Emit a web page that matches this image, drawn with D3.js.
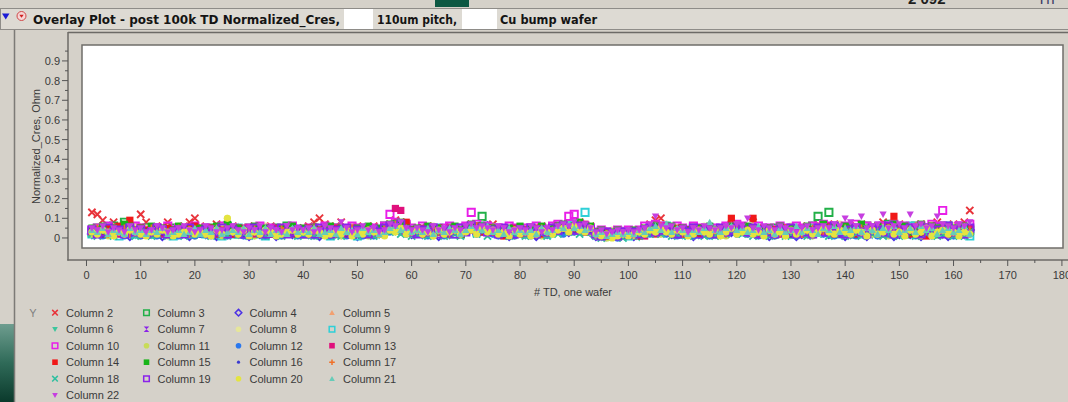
<!DOCTYPE html>
<html><head><meta charset="utf-8">
<script src="https://cdn.jsdelivr.net/npm/d3@7"></script>
<style>html,body{margin:0;padding:0;background:#d5d1c9;overflow:hidden}</style>
</head><body><svg id="c" width="1068" height="402"></svg>
<script>
// ---------------- DATA ----------------
const titleParts = ["Overlay Plot - post 100k TD Normalized_Cres,", "110um pitch,", "Cu bump wafer"];
const xTitle = "# TD, one wafer";
const yTitle = "Normalized_Cres, Ohm";
const xTicks = [0,10,20,30,40,50,60,70,80,90,100,110,120,130,140,150,160,170,180];
const yTicks = [0,0.1,0.2,0.3,0.4,0.5,0.6,0.7,0.8,0.9];
const seriesNames = ["Column 2","Column 3","Column 4","Column 5","Column 6","Column 7","Column 8","Column 9","Column 10","Column 11","Column 12","Column 13","Column 14","Column 15","Column 16","Column 17","Column 18","Column 19","Column 20","Column 21","Column 22"];

const col2 = [.13,.12,.09,.06,.08,.05,.07,.04,.06,.12,.08,.05,.04,.06,.08,.03,.05,.06,.08,.10,
.06,.05,.04,.07,.03,.05,.06,.04,.05,.03,.06,.04,.05,.06,.03,.05,.04,.06,.05,.04,
.06,.08,.10,.07,.05,.06,.08,.05,.04,.06,.05,.04,.06,.05,.06,.07,.09,.08,.06,.05,
.05,.04,.06,.05,.03,.05,.06,.04,.05,.06,.07,.05,.06,.04,.07,.05,.04,.05,.03,.05,
.04,.05,.03,.06,.04,.05,.06,.07,.05,.06,.08,.05,.06,.03,.04,.02,.03,.04,.03,.02,
.03,.04,.05,.07,.09,.10,.06,.05,.04,.05,.03,.04,.05,.04,.03,.05,.04,.06,.07,.05,
.06,.05,.08,.04,.05,.03,.04,.05,.03,.04,.05,.04,.06,.05,.07,.06,.05,.07,.06,.05,
.06,.05,.07,.04,.06,.05,.08,.06,.05,.07,.04,.06,.05,.07,.06,.05,.08,.06,.05,.07,
.06,.08,.14];
const col3 = [.03,.05,.04,.02,.06,.04,.08,.05,.03,.04,.05,.02,.03,.04,.02,.05,.03,.04,.02,.03,
.04,.03,.05,.02,.04,.06,.03,.02,.04,.05,.03,.04,.02,.03,.05,.04,.06,.03,.04,.02,
.03,.05,.02,.04,.03,.05,.04,.02,.03,.04,.02,.05,.03,.04,.06,.05,.07,.04,.06,.03,
.04,.03,.05,.02,.04,.03,.05,.04,.02,.05,.06,.04,.11,.05,.04,.03,.04,.02,.03,.04,
.03,.05,.02,.04,.03,.04,.06,.05,.07,.04,.06,.05,.04,.02,.03,.01,.02,.03,.02,.03,
.02,.03,.04,.05,.06,.04,.05,.03,.04,.02,.03,.05,.04,.03,.02,.04,.03,.05,.04,.06,
.05,.04,.03,.04,.02,.03,.05,.04,.03,.02,.04,.03,.05,.06,.11,.04,.13,.05,.03,.04,
.05,.02,.04,.06,.03,.05,.04,.07,.03,.05,.02,.04,.06,.03,.05,.04,.02,.06,.04,.03,
.05,.03,.04];
const col4 = [.02,.04,.03,.05,.02,.03,.04,.01,.03,.02,.04,.03,.02,.01,.03,.02,.04,.03,.01,.02,
.03,.02,.04,.01,.03,.02,.03,.04,.02,.01,.03,.02,.04,.03,.01,.02,.03,.02,.04,.03,
.02,.03,.01,.04,.02,.03,.02,.04,.03,.01,.02,.03,.02,.04,.03,.05,.04,.06,.03,.02,
.03,.02,.04,.03,.01,.03,.02,.04,.03,.04,.05,.03,.04,.06,.03,.02,.03,.01,.02,.03,
.02,.03,.01,.03,.02,.03,.04,.05,.03,.06,.04,.05,.03,.01,.02,.01,.02,.01,.03,.02,
.01,.02,.03,.05,.04,.03,.05,.02,.03,.02,.03,.01,.02,.03,.02,.03,.02,.04,.03,.05,
.04,.03,.05,.02,.03,.01,.02,.03,.02,.03,.01,.02,.03,.02,.04,.03,.02,.04,.03,.01,
.02,.04,.03,.01,.03,.02,.04,.03,.01,.02,.04,.02,.03,.01,.03,.02,.04,.03,.01,.02,
.03,.02,.04];
const col5 = [.04,.03,.05,.04,.06,.03,.05,.04,.03,.06,.04,.05,.03,.04,.02,.04,.03,.05,.04,.03,
.05,.04,.02,.03,.05,.04,.03,.06,.04,.03,.04,.05,.02,.04,.03,.04,.05,.03,.04,.05,
.04,.03,.05,.04,.02,.04,.03,.05,.04,.03,.05,.04,.03,.04,.05,.06,.05,.07,.04,.05,
.04,.05,.03,.04,.05,.03,.04,.05,.04,.05,.06,.05,.04,.06,.05,.03,.04,.05,.03,.04,
.05,.04,.03,.05,.04,.06,.05,.07,.06,.05,.07,.05,.06,.03,.02,.04,.03,.02,.04,.03,
.02,.04,.05,.06,.04,.07,.05,.04,.05,.03,.04,.05,.03,.04,.05,.03,.04,.05,.06,.04,
.05,.06,.04,.03,.04,.05,.03,.04,.05,.03,.04,.05,.04,.05,.06,.04,.05,.06,.04,.05,
.04,.06,.05,.03,.05,.04,.06,.05,.04,.06,.05,.04,.05,.06,.04,.05,.07,.04,.05,.04,
.05,.04,.03];
const col6 = [.01,.03,.02,.04,.01,.02,.03,.02,.01,.03,.02,.01,.02,.03,.01,.02,.01,.03,.02,.01,
.02,.01,.03,.02,.01,.02,.03,.01,.02,.03,.01,.02,.01,.03,.02,.01,.02,.03,.01,.02,
.01,.02,.03,.01,.02,.01,.03,.02,.01,.02,.03,.01,.02,.01,.02,.04,.03,.05,.02,.03,
.02,.01,.03,.02,.04,.02,.01,.03,.02,.03,.04,.02,.03,.05,.02,.03,.01,.02,.03,.02,
.01,.02,.03,.01,.02,.03,.04,.03,.05,.04,.03,.04,.02,.01,.00,.02,.01,.00,.01,.02,
.01,.00,.02,.03,.04,.03,.02,.04,.02,.01,.02,.03,.01,.02,.03,.01,.02,.03,.04,.02,
.03,.02,.04,.01,.02,.03,.01,.02,.03,.01,.02,.03,.01,.02,.03,.02,.04,.01,.03,.02,
.01,.03,.02,.04,.01,.02,.03,.01,.04,.02,.01,.03,.02,.01,.03,.02,.04,.01,.02,.03,
.02,.01,.02];
const col7 = [.03,.04,.02,.03,.05,.03,.02,.04,.03,.05,.02,.04,.03,.02,.04,.03,.05,.02,.03,.04,
.02,.03,.04,.03,.05,.02,.04,.03,.02,.04,.03,.05,.03,.02,.04,.03,.02,.04,.05,.03,
.04,.02,.03,.05,.04,.02,.03,.04,.02,.03,.05,.03,.04,.02,.03,.05,.06,.04,.05,.03,
.03,.04,.02,.05,.03,.04,.02,.03,.04,.05,.04,.06,.05,.03,.05,.04,.02,.03,.04,.03,
.04,.02,.04,.03,.05,.03,.05,.06,.04,.07,.05,.06,.04,.02,.03,.02,.01,.03,.02,.03,
.03,.02,.04,.03,.06,.05,.04,.05,.03,.04,.02,.04,.03,.05,.03,.04,.02,.05,.04,.05,
.06,.04,.05,.03,.04,.02,.03,.05,.04,.03,.02,.04,.03,.05,.04,.06,.03,.05,.04,.03,
.05,.03,.06,.04,.03,.05,.04,.02,.05,.03,.06,.04,.03,.05,.02,.04,.06,.03,.04,.05,
.03,.05,.04];
const col8 = [.05,.03,.04,.06,.03,.05,.02,.04,.06,.03,.05,.04,.02,.05,.03,.04,.06,.03,.02,.04,
.03,.05,.04,.02,.06,.10,.03,.04,.05,.02,.04,.03,.06,.04,.02,.03,.05,.04,.03,.05,
.03,.04,.05,.02,.04,.03,.05,.04,.06,.03,.04,.02,.05,.03,.04,.06,.05,.04,.07,.04,
.05,.03,.04,.06,.02,.04,.05,.03,.04,.05,.06,.04,.07,.05,.03,.04,.05,.03,.04,.05,
.03,.04,.05,.02,.05,.04,.06,.05,.06,.08,.06,.04,.05,.03,.02,.03,.04,.02,.03,.02,
.04,.03,.05,.04,.06,.05,.07,.04,.03,.05,.04,.03,.05,.06,.04,.03,.05,.04,.05,.06,
.04,.05,.06,.03,.05,.04,.03,.05,.04,.06,.03,.05,.04,.06,.05,.04,.06,.05,.07,.04,
.05,.04,.06,.05,.03,.06,.04,.05,.07,.04,.05,.03,.06,.04,.05,.07,.04,.05,.03,.06,
.04,.05,.03];
const col9 = [.02,.03,.04,.02,.03,.01,.04,.03,.02,.04,.03,.02,.04,.03,.02,.01,.03,.04,.02,.03,
.04,.02,.03,.04,.01,.03,.02,.05,.03,.04,.02,.03,.01,.04,.03,.02,.04,.03,.02,.04,
.03,.02,.04,.03,.01,.03,.04,.02,.03,.01,.04,.03,.02,.03,.04,.06,.05,.04,.03,.04,
.03,.04,.02,.03,.05,.03,.04,.02,.03,.04,.05,.03,.06,.04,.05,.03,.04,.02,.03,.04,
.02,.03,.04,.03,.02,.04,.05,.04,.06,.07,.05,.13,.04,.02,.03,.02,.01,.02,.03,.01,
.02,.03,.04,.03,.05,.04,.06,.03,.04,.02,.03,.04,.02,.03,.05,.02,.04,.03,.05,.04,
.03,.05,.04,.02,.03,.04,.02,.03,.04,.02,.03,.04,.03,.05,.04,.03,.05,.04,.02,.04,
.03,.05,.02,.04,.03,.05,.04,.02,.05,.03,.04,.06,.02,.04,.03,.05,.04,.03,.06,.02,
.04,.03,.01];
const col10 = [.04,.05,.03,.06,.04,.05,.03,.04,.06,.05,.03,.04,.05,.03,.06,.04,.05,.03,.04,.06,
.04,.05,.03,.04,.06,.03,.05,.04,.03,.05,.04,.06,.03,.05,.04,.03,.05,.06,.04,.03,
.05,.04,.03,.06,.04,.05,.03,.04,.06,.05,.04,.03,.05,.04,.06,.12,.08,.06,.07,.05,
.04,.06,.05,.03,.04,.05,.06,.04,.05,.06,.13,.07,.05,.06,.04,.05,.04,.06,.05,.03,
.05,.04,.06,.05,.04,.06,.07,.06,.11,.12,.07,.06,.05,.03,.04,.03,.02,.04,.03,.04,
.03,.04,.06,.05,.07,.06,.05,.04,.06,.05,.04,.06,.05,.04,.03,.05,.04,.06,.05,.07,
.06,.05,.04,.06,.03,.05,.04,.06,.05,.04,.06,.05,.04,.06,.05,.07,.06,.05,.04,.06,
.05,.07,.04,.06,.05,.04,.06,.05,.07,.04,.06,.05,.04,.06,.05,.07,.06,.14,.05,.04,
.06,.05,.07];
const col11 = [.02,.04,.03,.01,.03,.02,.04,.03,.02,.01,.03,.04,.02,.03,.01,.02,.04,.03,.02,.01,
.03,.02,.04,.03,.01,.02,.03,.04,.02,.03,.01,.02,.04,.03,.02,.01,.03,.02,.04,.03,
.02,.01,.03,.02,.04,.03,.01,.02,.03,.04,.02,.01,.03,.02,.04,.04,.06,.03,.05,.02,
.03,.02,.04,.01,.03,.02,.04,.03,.02,.04,.05,.03,.04,.02,.05,.03,.02,.04,.01,.03,
.02,.04,.03,.01,.03,.02,.05,.04,.06,.03,.05,.04,.03,.01,.02,.00,.02,.01,.03,.02,
.01,.02,.04,.03,.05,.02,.04,.03,.02,.04,.03,.01,.02,.03,.04,.02,.03,.01,.04,.03,
.04,.02,.03,.04,.02,.03,.01,.04,.02,.03,.04,.02,.03,.01,.04,.03,.05,.02,.04,.03,
.02,.04,.03,.05,.02,.03,.04,.01,.03,.05,.02,.04,.03,.01,.04,.02,.05,.03,.02,.04,
.03,.02,.04];
const col12 = [.03,.02,.01,.03,.02,.04,.01,.02,.03,.01,.02,.03,.01,.02,.03,.02,.01,.03,.02,.01,
.02,.03,.01,.02,.03,.01,.02,.04,.01,.02,.03,.02,.01,.03,.02,.01,.02,.03,.01,.02,
.03,.01,.02,.03,.01,.02,.03,.01,.02,.03,.01,.02,.01,.03,.02,.03,.04,.03,.02,.03,
.02,.03,.01,.02,.03,.01,.02,.03,.02,.03,.04,.02,.03,.04,.02,.01,.03,.02,.01,.02,
.03,.01,.02,.03,.02,.03,.04,.02,.04,.03,.05,.03,.04,.02,.01,.02,.01,.00,.02,.01,
.02,.01,.03,.02,.04,.03,.02,.04,.01,.03,.02,.01,.03,.02,.01,.03,.02,.03,.04,.02,
.03,.02,.04,.01,.02,.03,.01,.02,.03,.02,.01,.03,.02,.04,.03,.02,.03,.01,.02,.04,
.02,.01,.03,.02,.04,.01,.03,.02,.01,.03,.02,.04,.01,.03,.02,.01,.04,.02,.03,.01,
.02,.03,.02];
const col13 = [.04,.03,.05,.03,.04,.02,.05,.03,.04,.02,.03,.05,.04,.02,.03,.04,.02,.03,.05,.04,
.03,.02,.04,.05,.03,.04,.02,.03,.05,.04,.02,.03,.04,.02,.05,.03,.04,.02,.03,.04,
.02,.04,.03,.05,.02,.03,.04,.02,.05,.03,.04,.03,.02,.04,.03,.06,.15,.14,.06,.04,
.03,.05,.04,.02,.03,.04,.05,.03,.02,.04,.05,.06,.04,.05,.03,.04,.02,.03,.05,.04,
.03,.02,.04,.05,.03,.04,.06,.05,.04,.06,.05,.07,.04,.02,.01,.03,.02,.01,.02,.03,
.02,.03,.01,.04,.05,.03,.06,.04,.03,.02,.04,.03,.05,.02,.04,.03,.02,.05,.06,.04,
.05,.03,.04,.02,.05,.03,.04,.02,.03,.05,.04,.02,.03,.04,.05,.03,.06,.04,.02,.05,
.03,.04,.06,.02,.05,.03,.04,.06,.02,.05,.04,.03,.05,.02,.04,.06,.03,.05,.04,.02,
.04,.03,.05];
const col14 = [.03,.04,.02,.05,.03,.06,.04,.09,.03,.05,.04,.02,.04,.03,.05,.02,.04,.03,.05,.06,
.04,.03,.05,.02,.04,.03,.02,.05,.04,.03,.05,.02,.03,.04,.02,.05,.03,.04,.02,.03,
.05,.03,.04,.02,.03,.05,.04,.03,.02,.04,.03,.05,.02,.04,.03,.05,.04,.06,.08,.04,
.03,.02,.04,.03,.05,.02,.03,.04,.02,.05,.04,.06,.03,.04,.05,.02,.01,.03,.04,.02,
.04,.03,.05,.02,.04,.03,.04,.06,.05,.04,.06,.03,.05,.02,.03,.01,.02,.03,.01,.02,
.03,.01,.04,.03,.02,.05,.04,.03,.05,.02,.04,.03,.02,.04,.03,.02,.04,.05,.10,.04,
.03,.05,.10,.04,.03,.02,.04,.03,.05,.02,.04,.03,.02,.04,.03,.05,.04,.02,.05,.03,
.04,.02,.05,.03,.04,.06,.02,.04,.11,.03,.05,.02,.04,.03,.01,.05,.03,.04,.02,.03,
.02,.04,.03];
const col15 = [.05,.04,.06,.03,.05,.04,.07,.06,.04,.05,.03,.06,.04,.05,.03,.04,.06,.05,.03,.04,
.05,.03,.04,.06,.03,.07,.04,.05,.03,.04,.06,.03,.05,.04,.03,.05,.04,.06,.03,.05,
.04,.05,.03,.04,.06,.03,.05,.04,.03,.05,.04,.06,.03,.05,.04,.07,.06,.08,.05,.04,
.05,.04,.06,.03,.05,.04,.03,.06,.04,.05,.07,.05,.06,.04,.05,.04,.03,.05,.04,.06,
.03,.05,.04,.06,.03,.05,.06,.07,.05,.06,.08,.05,.06,.03,.04,.02,.03,.04,.02,.03,
.04,.02,.05,.04,.06,.05,.04,.06,.03,.05,.04,.03,.05,.04,.06,.03,.05,.04,.06,.05,
.04,.06,.05,.03,.04,.05,.03,.06,.04,.05,.03,.04,.06,.04,.05,.07,.05,.06,.04,.06,
.05,.04,.07,.05,.03,.06,.04,.05,.07,.04,.06,.03,.05,.07,.04,.06,.05,.03,.06,.05,
.04,.06,.03];
const col16 = [.02,.03,.01,.02,.04,.02,.03,.01,.02,.03,.02,.04,.01,.02,.03,.01,.02,.04,.02,.03,
.01,.02,.03,.02,.04,.01,.02,.03,.01,.02,.04,.02,.03,.01,.02,.03,.02,.01,.03,.02,
.02,.03,.01,.02,.03,.02,.04,.01,.02,.03,.01,.02,.03,.01,.02,.04,.05,.03,.04,.02,
.03,.01,.02,.04,.02,.03,.01,.02,.03,.02,.04,.03,.05,.03,.02,.03,.01,.02,.03,.01,
.02,.03,.01,.02,.03,.02,.04,.03,.05,.03,.04,.05,.03,.01,.02,.01,.00,.02,.01,.02,
.01,.02,.03,.02,.04,.03,.05,.02,.03,.01,.02,.03,.02,.01,.03,.02,.01,.03,.02,.04,
.03,.02,.01,.03,.02,.01,.03,.02,.04,.01,.03,.02,.01,.03,.02,.04,.02,.03,.01,.02,
.03,.02,.04,.01,.03,.02,.01,.03,.02,.04,.01,.03,.02,.01,.03,.02,.04,.03,.01,.02,
.03,.02,.01];
const col17 = [.03,.05,.04,.02,.04,.03,.05,.02,.04,.03,.02,.05,.03,.04,.02,.03,.05,.04,.02,.03,
.04,.02,.03,.05,.02,.04,.03,.02,.04,.03,.05,.02,.04,.03,.02,.05,.03,.04,.02,.03,
.03,.05,.02,.04,.03,.02,.04,.03,.05,.02,.03,.04,.02,.03,.05,.05,.07,.04,.05,.03,
.04,.02,.03,.05,.03,.04,.02,.04,.03,.05,.04,.06,.04,.05,.03,.04,.03,.02,.04,.03,
.02,.04,.03,.05,.02,.04,.05,.06,.04,.05,.07,.04,.05,.02,.03,.02,.01,.03,.02,.03,
.02,.03,.04,.05,.04,.06,.04,.03,.04,.02,.03,.05,.04,.02,.04,.03,.05,.02,.04,.06,
.05,.04,.03,.05,.02,.04,.03,.02,.05,.03,.04,.02,.03,.05,.04,.03,.05,.04,.03,.05,
.04,.03,.05,.02,.04,.06,.03,.04,.02,.05,.03,.04,.06,.03,.05,.02,.04,.05,.03,.04,
.05,.03,.04];
const col18 = [.02,.01,.03,.02,.01,.03,.02,.04,.01,.02,.03,.01,.02,.03,.01,.02,.03,.01,.02,.03,
.02,.03,.01,.02,.03,.01,.02,.03,.02,.01,.03,.02,.01,.02,.03,.01,.02,.03,.01,.02,
.03,.01,.02,.03,.01,.02,.01,.03,.02,.01,.03,.02,.01,.02,.03,.03,.04,.02,.03,.01,
.02,.03,.01,.02,.03,.01,.03,.02,.01,.03,.04,.02,.03,.01,.04,.02,.03,.01,.02,.03,
.01,.02,.03,.02,.01,.03,.02,.04,.03,.05,.02,.03,.04,.01,.00,.01,.02,.01,.00,.01,
.02,.01,.03,.02,.04,.02,.03,.01,.02,.03,.01,.02,.03,.01,.02,.01,.03,.02,.03,.04,
.02,.03,.01,.02,.03,.01,.02,.03,.01,.02,.03,.02,.01,.03,.02,.04,.01,.03,.02,.01,
.03,.02,.01,.03,.02,.04,.01,.02,.03,.01,.02,.03,.01,.04,.02,.03,.01,.02,.04,.01,
.02,.01,.03];
const col19 = [.04,.02,.03,.05,.03,.04,.02,.05,.03,.04,.02,.03,.05,.04,.02,.03,.04,.02,.05,.03,
.03,.04,.02,.03,.05,.02,.04,.03,.02,.04,.05,.03,.02,.04,.03,.05,.02,.03,.04,.02,
.04,.02,.05,.03,.02,.04,.03,.05,.02,.04,.03,.02,.04,.03,.05,.06,.05,.07,.04,.03,
.02,.04,.03,.05,.02,.03,.04,.02,.05,.03,.06,.04,.05,.03,.04,.02,.05,.03,.02,.04,
.03,.05,.02,.04,.03,.05,.04,.06,.05,.04,.06,.05,.04,.02,.01,.03,.02,.01,.03,.02,
.03,.02,.04,.05,.03,.04,.05,.03,.02,.04,.03,.05,.02,.04,.03,.02,.05,.03,.04,.05,
.04,.03,.05,.02,.04,.03,.02,.04,.03,.05,.02,.04,.03,.02,.05,.03,.04,.06,.03,.02,
.04,.05,.03,.02,.05,.04,.03,.06,.02,.04,.03,.05,.04,.02,.05,.03,.04,.02,.06,.03,
.04,.02,.05];
const col20 = [.03,.02,.04,.03,.01,.03,.02,.04,.03,.02,.01,.03,.02,.04,.03,.01,.02,.03,.04,.02,
.03,.02,.01,.04,.02,.10,.03,.02,.04,.01,.03,.02,.04,.03,.01,.02,.03,.04,.02,.03,
.02,.04,.03,.01,.02,.03,.02,.04,.01,.03,.02,.04,.03,.02,.01,.04,.03,.05,.02,.03,
.04,.02,.03,.01,.04,.02,.03,.04,.02,.03,.04,.02,.05,.03,.04,.02,.03,.01,.04,.02,
.03,.01,.02,.04,.03,.02,.04,.05,.03,.06,.04,.03,.05,.02,.01,.02,.00,.01,.02,.01,
.02,.03,.02,.04,.03,.05,.03,.02,.04,.03,.01,.02,.04,.03,.02,.04,.01,.03,.05,.02,
.03,.04,.02,.03,.01,.04,.02,.03,.01,.04,.02,.03,.04,.02,.03,.05,.03,.02,.04,.03,
.02,.04,.03,.01,.04,.02,.03,.05,.02,.03,.01,.04,.02,.03,.05,.01,.03,.04,.02,.03,
.01,.03,.02];
const col21 = [.04,.03,.05,.02,.04,.03,.02,.05,.03,.04,.02,.04,.03,.05,.02,.03,.04,.02,.03,.05,
.02,.04,.03,.05,.02,.03,.04,.03,.05,.02,.04,.03,.05,.02,.04,.03,.02,.05,.03,.04,
.03,.05,.02,.03,.04,.02,.05,.03,.04,.02,.05,.03,.04,.02,.03,.05,.06,.04,.05,.03,
.04,.03,.05,.02,.04,.03,.05,.04,.02,.04,.06,.05,.04,.06,.03,.04,.02,.05,.03,.04,
.03,.04,.02,.05,.03,.04,.06,.05,.07,.05,.06,.04,.05,.02,.03,.01,.02,.03,.02,.03,
.02,.04,.03,.05,.06,.04,.07,.03,.05,.04,.02,.04,.03,.05,.08,.04,.03,.05,.06,.04,
.05,.03,.04,.06,.03,.04,.02,.05,.03,.04,.06,.03,.05,.04,.02,.05,.04,.06,.03,.05,
.04,.06,.03,.05,.04,.02,.05,.04,.06,.03,.04,.05,.03,.06,.04,.05,.02,.04,.05,.03,
.04,.06,.02];
const col22 = [.05,.04,.06,.03,.05,.04,.03,.06,.04,.05,.03,.04,.06,.05,.03,.04,.05,.06,.04,.03,
.04,.06,.05,.03,.04,.05,.06,.04,.03,.05,.04,.06,.03,.05,.04,.03,.06,.04,.05,.04,
.05,.03,.04,.06,.05,.04,.08,.05,.03,.04,.06,.04,.05,.03,.04,.07,.06,.08,.05,.04,
.05,.04,.03,.06,.04,.05,.03,.05,.04,.06,.07,.05,.06,.05,.04,.06,.05,.03,.04,.05,
.04,.06,.05,.03,.05,.04,.06,.07,.06,.08,.06,.07,.05,.03,.04,.02,.03,.04,.03,.04,
.03,.04,.05,.07,.11,.06,.05,.06,.04,.05,.03,.05,.04,.06,.05,.04,.05,.06,.05,.07,
.06,.10,.05,.04,.06,.05,.04,.06,.05,.04,.03,.05,.06,.04,.05,.06,.05,.07,.06,.10,
.08,.06,.11,.05,.06,.07,.12,.05,.06,.07,.05,.12,.06,.07,.05,.06,.11,.07,.06,.05,
.07,.06,.08];

const seriesValues = [col2,col3,col4,col5,col6,col7,col8,col9,col10,col11,col12,col13,col14,col15,col16,col17,col18,col19,col20,col21,col22];

// ---------------- STYLE ----------------
const markerStyle = [
  {t:"x",c:"#e8333a",open:true},{t:"sq",c:"#22b048",open:true},{t:"dia",c:"#4b30e6",open:true},{t:"tu",c:"#f2a070",open:false},
  {t:"td",c:"#3cc69c",open:false},{t:"bow",c:"#8a22e8",open:false},{t:"circ",c:"#e6e69a",open:false},{t:"sq",c:"#2ed0d8",open:true},
  {t:"sq",c:"#e81ee8",open:true},{t:"circ",c:"#c8dc58",open:false},{t:"circ",c:"#2a78ee",open:false},{t:"sq",c:"#e0107c",open:false},
  {t:"sq",c:"#f01818",open:false},{t:"sq",c:"#18b418",open:false},{t:"dot",c:"#3a3ad0",open:false},{t:"plus",c:"#f07028",open:true},
  {t:"x",c:"#30c0a0",open:true},{t:"sq",c:"#8a22ea",open:true},{t:"circ",c:"#e4e440",open:false},{t:"tu",c:"#66ccb8",open:false},
  {t:"td",c:"#c63ee0",open:false}
];
function markerPath(t, s){
  switch(t){
    case "x": return `M${-s},${-s}L${s},${s}M${-s},${s}L${s},${-s}`;
    case "plus": return `M${-s},0H${s}M0,${-s}V${s}`;
    case "sq": return `M${-s},${-s}H${s}V${s}H${-s}Z`;
    case "dia": return `M0,${-s-0.5}L${s+0.5},0L0,${s+0.5}L${-s-0.5},0Z`;
    case "tu": return `M0,${-s}L${s},${s*0.8}L${-s},${s*0.8}Z`;
    case "td": return `M0,${s}L${s},${-s*0.8}L${-s},${-s*0.8}Z`;
    case "bow": return `M${-s},${-s}H${s}L${-s},${s}H${s}Z`;
    case "circ": return d3.arc()({innerRadius:0,outerRadius:s,startAngle:0,endAngle:2*Math.PI});
    case "dot": return d3.arc()({innerRadius:0,outerRadius:1.6,startAngle:0,endAngle:2*Math.PI});
  }
}
function styleMarker(sel, st, sw){
  if(st.open){ sel.attr("fill","none").attr("stroke",st.c).attr("stroke-width",sw); }
  else { sel.attr("fill",st.c).attr("stroke","none"); }
}

// ---------------- DRAW ----------------
const W=1068,H=402;
const svg=d3.select("#c");
const FONT="'Liberation Sans', Arial, sans-serif";
const defs=svg.append("defs");
const g1=defs.append("linearGradient").attr("id","lg").attr("x1",0).attr("y1",0).attr("x2",0).attr("y2",1);
g1.append("stop").attr("offset","0").attr("stop-color","#6e9d8f");
g1.append("stop").attr("offset","0.5").attr("stop-color","#2f6a58");
g1.append("stop").attr("offset","1").attr("stop-color","#0b3a2c");
defs.append("clipPath").attr("id","plotclip").append("rect").attr("x",83).attr("y",46).attr("width",979).attr("height",201);

svg.append("rect").attr("width",W).attr("height",H).attr("fill","#d5d1c9");
// slide remnants at the top
svg.append("rect").attr("x",435).attr("y",0).attr("width",34).attr("height",7).attr("fill","#0c5843");
svg.append("text").attr("x",908).attr("y",4).attr("font-family",FONT).attr("font-weight","bold").attr("font-size",15).attr("fill","#1e1e1e").text("2 092");
svg.append("text").attr("x",1037).attr("y",4).attr("font-family",FONT).attr("font-size",15).attr("fill","#3c3c66").text("Th");
// left green strip
svg.append("rect").attr("x",0).attr("y",324).attr("width",14).attr("height",78).attr("fill","url(#lg)");
svg.append("line").attr("x1",14.5).attr("y1",30).attr("x2",14.5).attr("y2",H).attr("stroke","#7c7a76").attr("stroke-width",1.5);

// header bar
svg.append("rect").attr("x",0.5).attr("y",8.5).attr("width",W).attr("height",21).attr("fill","#dddad3").attr("stroke","#8e8c88");
svg.append("path").attr("d","M2,13.5H9.5L5.75,19.5Z").attr("fill","#1b1bd6");
svg.append("circle").attr("cx",21.5).attr("cy",16).attr("r",4.5).attr("fill","#f6d6d6").attr("stroke","#d04848").attr("stroke-width",1);
svg.append("path").attr("d","M19.3,14.8H23.7L21.5,17.8Z").attr("fill","#d02020");
const titleX=[[33,340],[377,457],[500,597]];
titleParts.forEach((t,i)=>{
  svg.append("text").attr("x",titleX[i][0]).attr("y",23.5).attr("font-family","'DejaVu Sans', sans-serif").attr("font-weight","bold")
    .attr("font-size",12).attr("fill","#141414").attr("textLength",titleX[i][1]-titleX[i][0]).attr("lengthAdjust","spacingAndGlyphs").text(t);
});
svg.append("rect").attr("x",344).attr("y",9).attr("width",29).attr("height",20).attr("fill","#fff");
svg.append("rect").attr("x",462).attr("y",9).attr("width",35).attr("height",20).attr("fill","#fff");

// frame line of the plot panel
svg.append("line").attr("x1",68).attr("y1",32.5).attr("x2",W).attr("y2",32.5).attr("stroke","#6c6a66").attr("stroke-width",1.5);

// scales
const x=d3.scaleLinear().domain([-0.83,180.2]).range([82,1063]);
const y=d3.scaleLinear().domain([-0.051,0.981]).range([248,45]);

// plot area
svg.append("rect").attr("x",82).attr("y",45).attr("width",981).attr("height",203).attr("fill","#fff").attr("stroke","#6f6d69").attr("stroke-width",1.5);

// y axis
const yAxisG=svg.append("g").attr("transform","translate(68,0)");
yAxisG.append("line").attr("x1",0).attr("y1",32).attr("x2",0).attr("y2",260.5).attr("stroke","#6c6a66").attr("stroke-width",1.5);
const yMinor=yTicks.map(v=>v+0.05);
yAxisG.selectAll(".ym").data(yMinor).join("line").attr("x1",-3).attr("x2",0).attr("y1",d=>y(d)).attr("y2",d=>y(d)).attr("stroke","#555").attr("stroke-width",1);
yAxisG.selectAll(".yM").data(yTicks).join("line").attr("x1",-6).attr("x2",0).attr("y1",d=>y(d)).attr("y2",d=>y(d)).attr("stroke","#555").attr("stroke-width",1);
yAxisG.selectAll(".yl").data(yTicks).join("text").attr("x",-8).attr("y",d=>y(d)+4).attr("text-anchor","end")
  .attr("font-family",FONT).attr("font-size",11).attr("fill","#3a3a3a").text(d=>d===0?"0":d3.format(".1f")(d));
svg.append("text").attr("transform","translate(40,146.5) rotate(-90)").attr("text-anchor","middle").attr("font-family",FONT)
  .attr("font-size",11).attr("fill","#3a3a3a").text(yTitle);

// x axis
const xAxisG=svg.append("g").attr("transform","translate(0,260)");
xAxisG.append("line").attr("x1",67.3).attr("x2",W).attr("y1",0).attr("y2",0).attr("stroke","#6c6a66").attr("stroke-width",1.5);
const xMinor=xTicks.slice(0,-1).map(v=>v+5);
xAxisG.selectAll(".xm").data(xMinor).join("line").attr("x1",d=>x(d)).attr("x2",d=>x(d)).attr("y1",0).attr("y2",3).attr("stroke","#555");
xAxisG.selectAll(".xM").data(xTicks).join("line").attr("x1",d=>x(d)).attr("x2",d=>x(d)).attr("y1",0).attr("y2",6).attr("stroke","#555");
xAxisG.selectAll(".xl").data(xTicks).join("text").attr("x",d=>x(d)).attr("y",19).attr("text-anchor","middle")
  .attr("font-family",FONT).attr("font-size",11).attr("fill","#3a3a3a").text(d=>d);
svg.append("text").attr("x",573).attr("y",296).attr("text-anchor","middle").attr("font-family",FONT).attr("font-size",11).attr("fill","#3a3a3a").text(xTitle);

// points
const pts=svg.append("g").attr("clip-path","url(#plotclip)");
seriesValues.forEach((vals,si)=>{
  const st=markerStyle[si];
  const sel=pts.append("g").selectAll("path").data(vals).join("path")
    .attr("d",markerPath(st.t,3.6))
    .attr("transform",(d,i)=>`translate(${x(i+1)},${y(d)})`);
  styleMarker(sel,st,1.9);
});

// legend
svg.append("text").attr("x",33).attr("y",316.5).attr("text-anchor","middle").attr("font-family",FONT).attr("font-size",11).attr("fill","#808080").text("Y");
const legX=[55,146.5,238.5,332];
seriesNames.forEach((n,i)=>{
  const cx=legX[i%4], cy=312.7+Math.floor(i/4)*16.5;
  const st=markerStyle[i];
  const m=svg.append("path").attr("d",markerPath(st.t,2.8)).attr("transform",`translate(${cx},${cy})`);
  styleMarker(m,st,1.5);
  svg.append("text").attr("x",cx+11).attr("y",cy+4).attr("font-family",FONT).attr("font-size",11).attr("fill","#3a3a3a").text(n);
});
</script>
</body></html>
